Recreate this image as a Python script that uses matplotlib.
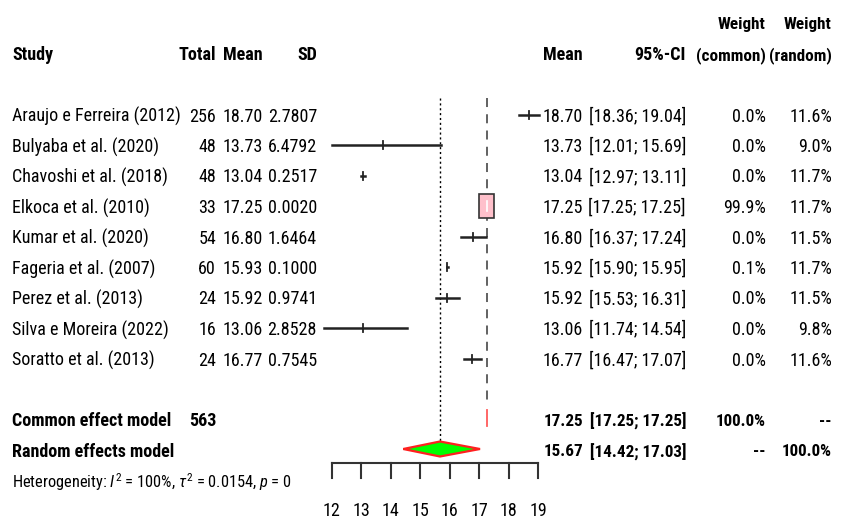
import numpy as np
import matplotlib
matplotlib.use("Agg")
import matplotlib.pyplot as plt
from matplotlib import transforms, font_manager
from matplotlib.patches import Rectangle, Polygon

# narrow sans family with a bold face
faces = {}
for f in font_manager.fontManager.ttflist:
    faces.setdefault(f.name, set()).add((f.weight, f.style))
narrow = 'DejaVu Sans'
for name in ['Liberation Sans Narrow', 'Roboto Condensed', 'Archivo Narrow', 'PT Sans Narrow',
             'Fira Sans Condensed']:
    fw = faces.get(name, set())
    if (400, 'normal') in fw and (700, 'normal') in fw:
        narrow = name
        break
plt.rcParams['font.family'] = [narrow, 'DejaVu Sans']
plt.rcParams['mathtext.fontset'] = 'custom'
plt.rcParams['mathtext.rm'] = narrow
plt.rcParams['mathtext.it'] = narrow + ':italic'

# study data
studies = ["Araujo e Ferreira (2012)", "Bulyaba et al. (2020)", "Chavoshi et al. (2018)",
           "Elkoca et al. (2010)", "Kumar et al. (2020)", "Fageria et al. (2007)",
           "Perez et al. (2013)", "Silva e Moreira (2022)", "Soratto et al. (2013)"]
total = [256, 48, 48, 33, 54, 60, 24, 16, 24]
mean_raw = [18.70, 13.73, 13.04, 17.25, 16.80, 15.93, 15.92, 13.06, 16.77]
sd_raw = ["2.7807", "6.4792", "0.2517", "0.0020", "1.6464", "0.1000", "0.9741", "2.8528", "0.7545"]
est = [18.70, 13.73, 13.04, 17.25, 16.80, 15.92, 15.92, 13.06, 16.77]
ci_lo = [18.36, 12.01, 12.97, 17.25, 16.37, 15.90, 15.53, 11.74, 16.47]
ci_hi = [19.04, 15.69, 13.11, 17.25, 17.24, 15.95, 16.31, 14.54, 17.07]
w_common = [0.0, 0.0, 0.0, 99.9, 0.0, 0.1, 0.0, 0.0, 0.0]
w_random = [11.6, 9.0, 11.7, 11.7, 11.5, 11.7, 11.5, 9.8, 11.6]

# pooled estimates
common_n = 563
common = (17.25, 17.25, 17.25)
random = (15.67, 14.42, 17.03)
het_text = r"Heterogeneity: $I^2$ = 100%, $\tau^2$ = 0.0154, $p$ = 0"
xticks = [12, 13, 14, 15, 16, 17, 18, 19]

W, H = 841, 521
fig = plt.figure(figsize=(W / 100, H / 100), dpi=100)
ax = fig.add_axes([0, 0, 1, 1])
ax.axis('off')

# forest panel: 12..19 spans pixels 332..538
ppu = 206 / 7
x0 = 12 - 332 / ppu
ax.set_xlim(x0, x0 + W / ppu)
ax.set_ylim(H, 0)

def row(k):
    return 114.5 + 30.5 * k

tr = transforms.blended_transform_factory(ax.transAxes, ax.transData)
fs = 13
fsb = 12.3  # bold numbers in the summary rows and weight headers

def txt(px, k, s, ha='right', bold=False, size=fs):
    ax.text(px / W, row(k) + 2, s, transform=tr, ha=ha, va='center',
            fontsize=size, fontweight='bold' if bold else 'normal', color='black')

# headers
hdr = dict(bold=True)
txt(12, -2, "Study", ha='left', **hdr)
txt(216, -2, "Total", **hdr)
txt(263, -2, "Mean", **hdr)
txt(317, -2, "SD", **hdr)
ax.text(432, row(-2) + 2, "Mean", ha='center', va='center', fontsize=fs, fontweight='bold')
txt(583, -2, "Mean", **hdr)
txt(686, -2, "95%-CI", **hdr)
txt(766, -3, "Weight", size=fsb, **hdr)
txt(766, -2, "(common)", size=fsb, **hdr)
txt(832, -3, "Weight", size=fsb, **hdr)
txt(832, -2, "(random)", size=fsb, **hdr)

# study rows
for i in range(len(studies)):
    txt(12, i, studies[i], ha='left')
    txt(216, i, str(total[i]))
    txt(263, i, f"{mean_raw[i]:.2f}")
    txt(317, i, sd_raw[i])
    txt(583, i, f"{est[i]:.2f}")
    txt(686, i, f"[{ci_lo[i]:.2f}; {ci_hi[i]:.2f}]")
    txt(766, i, f"{w_common[i]:.1f}%")
    txt(832, i, f"{w_random[i]:.1f}%")

# summary rows
k_c, k_r = 10, 11
txt(12, k_c, "Common effect model", ha='left', bold=True)
txt(216, k_c, str(common_n), bold=True)
txt(583, k_c, f"{common[0]:.2f}", bold=True, size=fsb)
txt(686, k_c, f"[{common[1]:.2f}; {common[2]:.2f}]", bold=True, size=fsb)
txt(766, k_c, "100.0%", bold=True, size=fsb)
txt(832, k_c, "--", bold=True, size=fsb)
txt(12, k_r, "Random effects model", ha='left', bold=True)
txt(583, k_r, f"{random[0]:.2f}", bold=True, size=fsb)
txt(686, k_r, f"[{random[1]:.2f}; {random[2]:.2f}]", bold=True, size=fsb)
txt(766, k_r, "--", bold=True, size=fsb)
txt(832, k_r, "100.0%", bold=True, size=fsb)
txt(12, 12, het_text, ha='left', size=11.8)

# reference lines
ax.plot([random[0]] * 2, [98, 441], color='black', lw=1, ls=(0, (1.5, 2)))
ax.plot([common[0]] * 2, [98, 406], color='#555555', lw=1.3, ls=(0, (5, 4)))

# study CIs and boxes (box area ~ common weight)
for i in range(len(studies)):
    y = row(i)
    s = np.sqrt(w_common[i] / 100)
    hw, hh = 7.5 * s / ppu, 12.5 * s
    if s > 0.2:
        ax.add_patch(Rectangle((est[i] - hw, y - hh), 2 * hw, 2 * hh,
                               facecolor='#ffc0cb', edgecolor='#333333', lw=1.2, zorder=3))
    inside = (ci_hi[i] - ci_lo[i]) < 2 * hw
    if inside:
        ax.plot([est[i]] * 2, [y - 5, y + 5], color='white', lw=1.2, zorder=4)
    else:
        ax.plot([ci_lo[i], ci_hi[i]], [y, y], color='#222222', lw=1.8, zorder=4)
        ax.plot([est[i]] * 2, [y - 4, y + 4], color='#222222', lw=1.3, zorder=4)

# pooled: common (zero width -> red tick), random diamond
ax.plot([common[0]] * 2, [410, 426], color='#ff5a5a', lw=1.3)
yr = 449
ax.add_patch(Polygon([(random[1], yr), (random[0], yr - 7.5), (random[2], yr), (random[0], yr + 7.5)],
                     closed=True, facecolor='#00ff00', edgecolor='#ff2020', lw=1.6, zorder=3))

# x axis
ya = 462.7
ax.plot([xticks[0], xticks[-1]], [ya, ya], color='#333333', lw=1.5)
for t in xticks:
    ax.plot([t, t], [ya, ya + 15], color='#333333', lw=1.5)
    ax.text(t, 511, str(t), ha='center', va='center', fontsize=fs)

fig.savefig('out.png', dpi=100)
